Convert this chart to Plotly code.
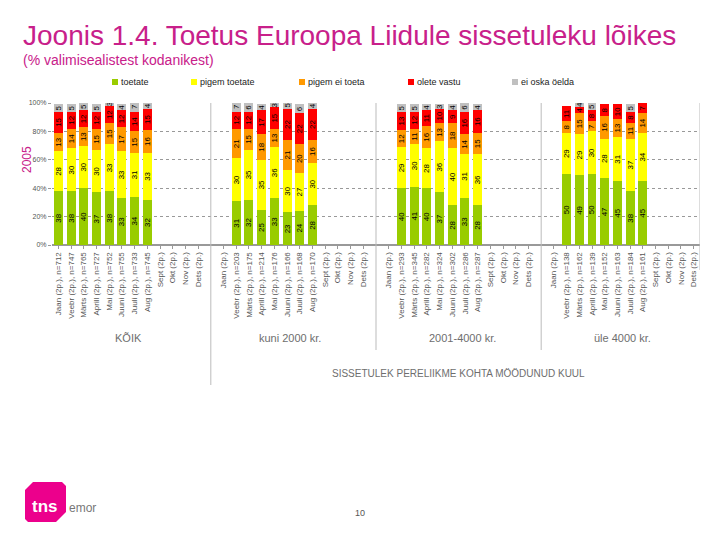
import plotly.graph_objects as go

months = ["Jaan", "Veebr", "Märts", "Aprill", "Mai", "Juuni", "Juuli", "Aug", "Sept", "Okt", "Nov", "Dets"]
groups = ["KÕIK", "kuni 2000 kr.", "2001-4000 kr.", "üle 4000 kr."]
n_kõik = [712, 747, 765, 727, 752, 755, 733, 745, None, None, None, None]
n_kuni2000 = [None, 203, 175, 214, 176, 166, 168, 170, None, None, None, None]
n_2001_4000 = [None, 293, 345, 282, 324, 302, 286, 287, None, None, None, None]
n_üle4000 = [None, 138, 162, 139, 152, 163, 184, 161, None, None, None, None]

series_names = ["toetate", "pigem toetate", "pigem ei toeta", "olete vastu", "ei oska öelda"]
colors = ["#99cc00", "#ffff00", "#ff9900", "#ff0000", "#c0c0c0"]

_ = None
# values per group, per series, Jaan..Dets
kõik = [
    [38, 38, 40, 37, 38, 33, 34, 32, _, _, _, _],
    [28, 30, 30, 30, 33, 33, 31, 33, _, _, _, _],
    [13, 14, 13, 15, 15, 17, 15, 16, _, _, _, _],
    [15, 12, 12, 12, 12, 12, 14, 15, _, _, _, _],
    [5, 5, 5, 5, 3, 4, 7, 4, _, _, _, _],
]
kuni2000 = [
    [_, 31, 32, 25, 33, 23, 24, 28, _, _, _, _],
    [_, 30, 35, 35, 36, 30, 27, 30, _, _, _, _],
    [_, 21, 15, 18, 13, 21, 20, 16, _, _, _, _],
    [_, 12, 12, 17, 15, 22, 22, 22, _, _, _, _],
    [_, 7, 6, 4, 3, 5, 6, 4, _, _, _, _],
]
v2001_4000 = [
    [_, 40, 41, 40, 37, 28, 33, 28, _, _, _, _],
    [_, 29, 30, 28, 36, 40, 31, 36, _, _, _, _],
    [_, 12, 11, 16, 13, 18, 14, 15, _, _, _, _],
    [_, 13, 12, 11, 10, 9, 16, 16, _, _, _, _],
    [_, 5, 5, 4, 3, 4, 6, 4, _, _, _, _],
]
üle4000 = [
    [_, 50, 49, 50, 47, 45, 38, 45, _, _, _, _],
    [_, 29, 29, 30, 28, 31, 37, 34, _, _, _, _],
    [_, 8, 15, 7, 16, 13, 11, 14, _, _, _, _],
    [_, 11, 4, 8, 8, 10, 8, 7, _, _, _, _],
    [_, _, 4, 5, _, _, 5, _, _, _, _, _],
]

group_data = [kõik, kuni2000, v2001_4000, üle4000]
group_n = [n_kõik, n_kuni2000, n_2001_4000, n_üle4000]

# build x positions (one empty slot between groups)
xs, ticktext = [], []
for g in range(4):
    for m in range(12):
        xs.append(g * 13 + m)
        n = group_n[g][m]
        ticktext.append(f"{months[m]} (2p.)" + (f", n={n}" if n else ""))

fig = go.Figure()
for s in range(5):
    vals = []
    for g in range(4):
        vals.extend(group_data[g][s])
    fig.add_trace(go.Bar(
        x=xs, y=vals, name=series_names[s], showlegend=False,
        marker=dict(color=colors[s], line=dict(width=0)),
        text=[str(v) if v is not None else "" for v in vals],
        textposition="inside", insidetextanchor="middle", textangle=-90,
        textfont=dict(size=8, color="black", family="Liberation Sans"),
        hoverinfo="skip",
    ))

L, R, T, B = 52, 700, 103, 245
W, H = R - L, B - T
def px(x):
    return (x - L) / W
def py(y):
    return (B - y) / H

pink = "#c8208a"
gray = "#6e6e6e"

fig.update_layout(
    barmode="stack", bargap=0.3,
    width=720, height=540,
    margin=dict(l=L, r=720 - R, t=T, b=540 - B, autoexpand=False),
    paper_bgcolor="white", plot_bgcolor="white",
    font=dict(family="Liberation Sans", color=gray),
    uniformtext=dict(minsize=7, mode="show"),
    showlegend=False,
    xaxis=dict(range=[-0.5, 50.5], tickmode="array", tickvals=xs, ticktext=ticktext,
               tickangle=-90, tickfont=dict(size=8, color="#555"), showgrid=False,
               ticks="outside", ticklen=3, tickcolor="#999", showline=True, linecolor="#999",
               zeroline=False),
    yaxis=dict(range=[0, 100], tickvals=[0, 20, 40, 60, 80, 100],
               ticktext=["0%", "20%", "40%", "60%", "80%", "100%"],
               tickfont=dict(size=7, color="#555"), showgrid=True, gridcolor="#999",
               griddash="dot", gridwidth=1, zeroline=True, zerolinecolor="#999",
               showline=False, ticks="outside", ticklen=3, tickcolor="#999"),
)

shapes = []
# group separators
for i, bottom in [(12, 385), (25, 350), (38, 350)]:
    shapes.append(dict(type="line", xref="x", yref="paper", x0=i, x1=i, y0=1, y1=py(bottom),
                       line=dict(color="#bbbbbb", width=1)))
shapes.append(dict(type="line", xref="x", yref="paper", x0=50.5, x1=50.5, y0=1, y1=py(270),
                   line=dict(color="#bbbbbb", width=1)))
# legend swatches
legend_x = [112, 191, 299, 408, 512]
for lx, c in zip(legend_x, colors):
    shapes.append(dict(type="rect", xref="paper", yref="paper",
                       x0=px(lx), x1=px(lx + 6), y0=py(79), y1=py(85),
                       fillcolor=c, line=dict(width=0)))
# logo
shapes.append(dict(type="path", xref="paper", yref="paper",
                   path=f"M {px(33)},{py(482)} L {px(62)},{py(482)} L {px(66)},{py(486)} "
                        f"L {px(66)},{py(512)} L {px(56)},{py(522)} L {px(28)},{py(522)} "
                        f"L {px(25)},{py(519)} L {px(25)},{py(490)} Z",
                   fillcolor="#ec008c", line=dict(width=0)))
fig.update_layout(shapes=shapes)

ann = [
    dict(text="Joonis 1.4. Toetus Euroopa Liidule sissetuleku lõikes", x=px(21), y=py(35),
         xanchor="left", yanchor="middle", font=dict(size=28, color=pink)),
    dict(text="(% valimisealistest kodanikest)", x=px(21), y=py(60),
         xanchor="left", yanchor="middle", font=dict(size=14, color=pink)),
    dict(text="2005", x=px(27), y=py(160), xanchor="center", yanchor="middle", textangle=-90,
         font=dict(size=12, color=pink)),
    dict(text="SISSETULEK PERELIIKME KOHTA MÖÖDUNUD KUUL", x=px(458), y=py(373),
         xanchor="center", yanchor="middle", font=dict(size=10, color=gray)),
    dict(text="<b>tns</b>", x=px(45), y=py(507), xanchor="center", yanchor="middle",
         font=dict(size=17, color="white")),
    dict(text="emor", x=px(67), y=py(508), xanchor="left", yanchor="middle",
         font=dict(size=12, color="#777")),
    dict(text="10", x=px(360), y=py(513), xanchor="center", yanchor="middle",
         font=dict(size=9, color="#555")),
]
for g, cx in zip(groups, [128, 290, 462, 622]):
    ann.append(dict(text=g, x=px(cx), y=py(338), xanchor="center", yanchor="middle",
                    font=dict(size=11, color=gray)))
for lx, name in zip(legend_x, series_names):
    ann.append(dict(text=name, x=px(lx + 7), y=py(82), xanchor="left", yanchor="middle",
                    font=dict(size=9, color="#222")))
for a in ann:
    a.update(xref="paper", yref="paper", showarrow=False)
fig.update_layout(annotations=ann)

fig.write_html("out.html", config={"displayModeBar": False},
               post_script="document.body.style.margin='0px';")
